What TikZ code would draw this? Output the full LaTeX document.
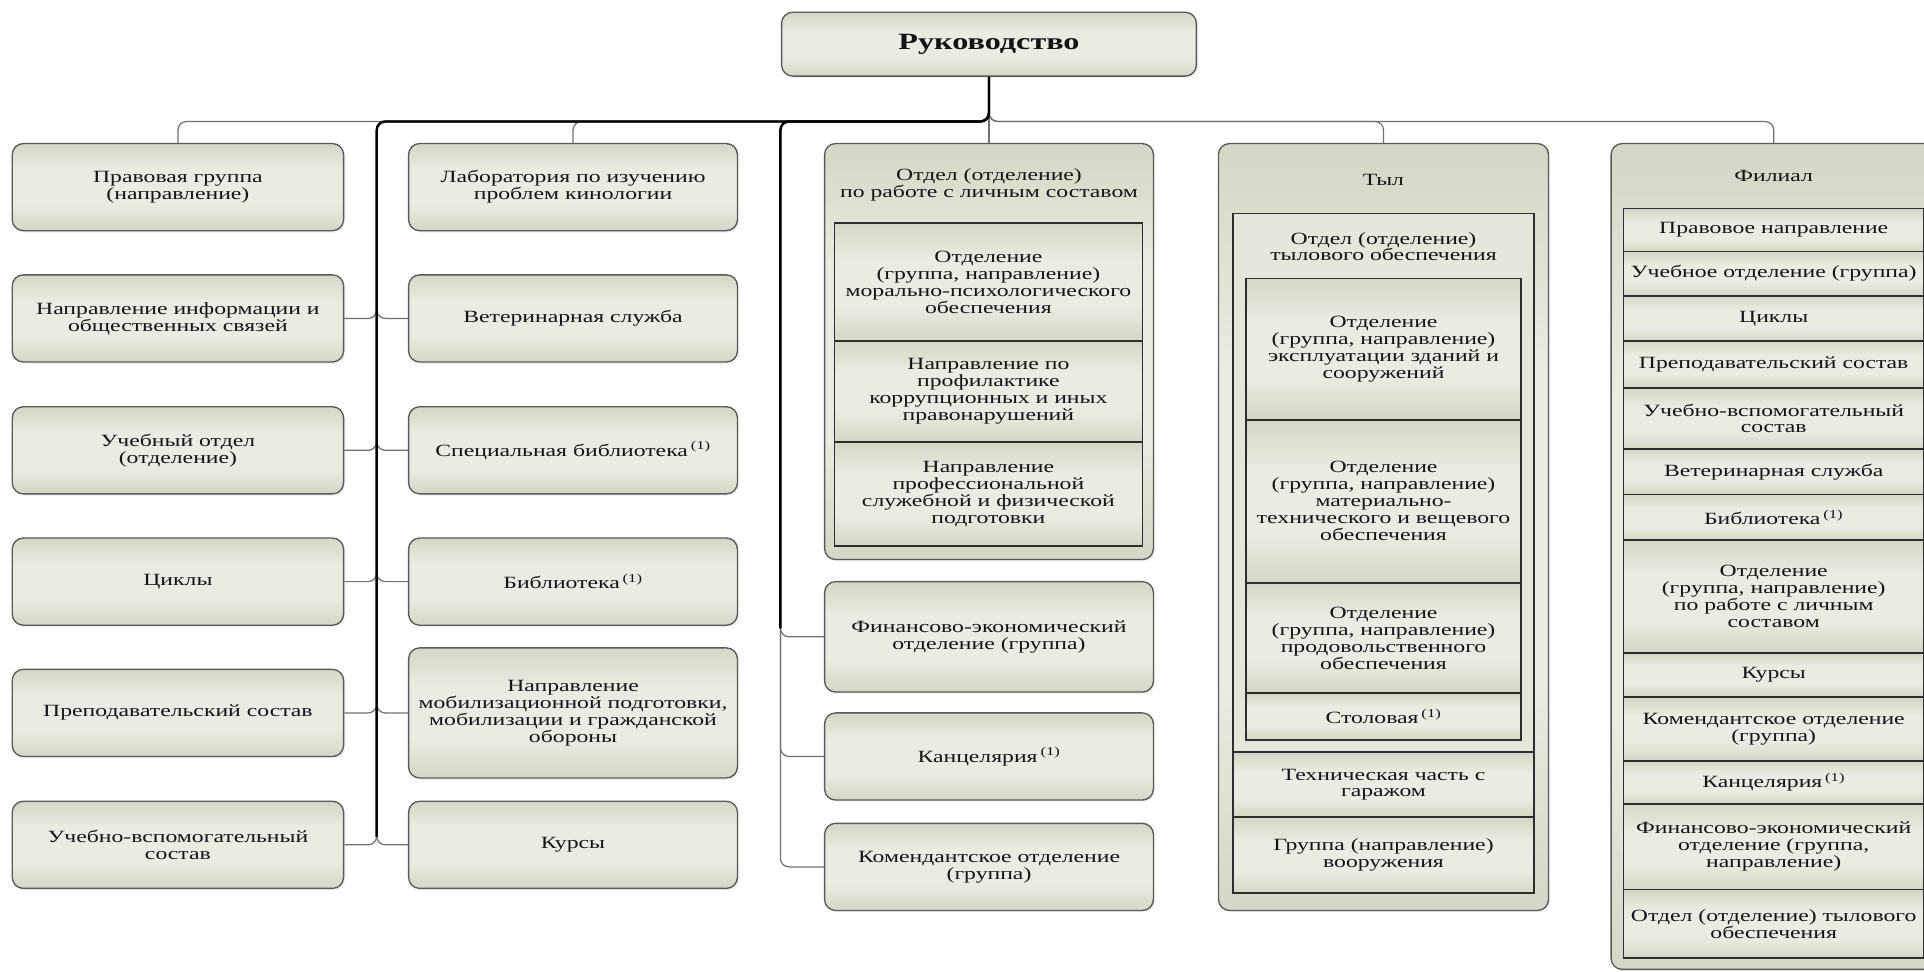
\documentclass[tikz,border=0pt]{standalone}
\usepackage{fontspec}
\setmainfont{Liberation Serif}[FakeStretch=1.38]
\usetikzlibrary{shadows}
\definecolor{boxedge}{HTML}{D5D6C6}
\definecolor{boxmid}{HTML}{EBEBE3}
\definecolor{boxline}{HTML}{5A5A5A}
\definecolor{rowline}{HTML}{2E2E2E}
\definecolor{connline}{HTML}{707070}
\definecolor{txt}{HTML}{141414}
\pgfdeclareverticalshading{boxshade}{100bp}{color(0bp)=(boxedge); color(25bp)=(boxedge); color(40bp)=(boxmid); color(60bp)=(boxmid); color(75bp)=(boxedge); color(100bp)=(boxedge)}
\tikzset{
  txtfont/.style={font=\fontsize{14}{13.8}\selectfont, text=txt},
  box/.style={draw=boxline, line width=1.1pt, rounded corners=9pt,
    shading=boxshade,
    align=center, inner sep=0pt, txtfont,
    drop shadow={opacity=0.12, shadow xshift=1.5pt, shadow yshift=-1.5pt}},
  row/.style={draw=rowline, line width=1.4pt, shading=boxshade,
    align=center, inner sep=0pt, txtfont},
  frame/.style={draw=rowline, line width=1.4pt, fill=boxmid!75!boxedge, inner sep=0pt},
  lbl/.style={align=center, inner sep=0pt, txtfont},
  conn/.style={draw=connline, line width=1pt, rounded corners=7pt},
  trunk/.style={draw=black, line width=2pt, rounded corners=7pt},
}
\newcommand{\fnone}{\,\textsuperscript{(1)}}
\begin{document}
\begin{tikzpicture}[x=1pt,y=-1pt]
\useasboundingbox (0,0) rectangle (1568,792);
\clip (0,0) rectangle (1568,792);

% top
\node[box, minimum width=338pt, minimum height=52pt, font=\fontsize{19}{21}\selectfont\bfseries] (ruk) at (806,36) {Руководство};

% column 1
\node[box, minimum width=270pt, minimum height=71pt] (c1a) at (145,152.5) {Правовая группа\\(направление)};
\node[box, minimum width=270pt, minimum height=71pt] (c1b) at (145,259.5) {Направление информации и\\общественных связей};
\node[box, minimum width=270pt, minimum height=71pt] (c1c) at (145,367) {Учебный отдел\\(отделение)};
\node[box, minimum width=270pt, minimum height=71pt] (c1d) at (145,474) {Циклы};
\node[box, minimum width=270pt, minimum height=71pt] (c1e) at (145,581) {Преподавательский состав};
\node[box, minimum width=270pt, minimum height=71pt] (c1f) at (145,688.5) {Учебно-вспомогательный\\состав};

% column 2
\node[box, minimum width=268pt, minimum height=71pt] (c2a) at (467,152.5) {Лаборатория по изучению\\проблем кинологии};
\node[box, minimum width=268pt, minimum height=71pt] (c2b) at (467,259.5) {Ветеринарная служба};
\node[box, minimum width=268pt, minimum height=71pt] (c2c) at (467,367) {Специальная библиотека\fnone};
\node[box, minimum width=268pt, minimum height=71pt] (c2d) at (467,474) {Библиотека\fnone};
\node[box, minimum width=268pt, minimum height=106pt] (c2e) at (467,581) {Направление\\мобилизационной подготовки,\\мобилизации и гражданской\\обороны};
\node[box, minimum width=268pt, minimum height=71pt] (c2f) at (467,688.5) {Курсы};

% column 3
\node[box, minimum width=268pt, minimum height=339pt] (c3a) at (806,286.5) {};
\node[lbl] (c3t) at (806,151) {Отдел (отделение)\\по работе с личным составом};
\node[row, minimum width=251pt, minimum height=96pt] (c3r1) at (805.5,230) {Отделение\\(группа, направление)\\морально-психологического\\обеспечения};
\node[row, minimum width=251pt, minimum height=82pt] (c3r2) at (805.5,319) {Направление по\\профилактике\\коррупционных и иных\\правонарушений};
\node[row, minimum width=251pt, minimum height=85pt] (c3r3) at (805.5,402.5) {Направление\\профессиональной\\служебной и физической\\подготовки};
\node[box, minimum width=268pt, minimum height=90pt] (c3b) at (806,519) {Финансово-экономический\\отделение (группа)};
\node[box, minimum width=268pt, minimum height=71pt] (c3c) at (806,616.5) {Канцелярия\fnone};
\node[box, minimum width=268pt, minimum height=71pt] (c3d) at (806,706.5) {Комендантское отделение\\(группа)};

% column 4: Тыл
\node[box, minimum width=269pt, minimum height=625pt] (tyl) at (1127.5,429.5) {};
\node[lbl] (tylt) at (1127.5,147) {Тыл};
\node[frame, minimum width=245pt, minimum height=439pt] (tw) at (1127.5,393.5) {};
\node[lbl] (twt) at (1127.5,201) {Отдел (отделение)\\тылового обеспечения};
\node[row, minimum width=224pt, minimum height=115pt] (tr1) at (1127.5,284.5) {Отделение\\(группа, направление)\\эксплуатации зданий и\\сооружений};
\node[row, minimum width=224pt, minimum height=133pt] (tr2) at (1127.5,408.5) {Отделение\\(группа, направление)\\материально-\\технического и вещевого\\обеспечения};
\node[row, minimum width=224pt, minimum height=90pt] (tr3) at (1127.5,520) {Отделение\\(группа, направление)\\продовольственного\\обеспечения};
\node[row, minimum width=224pt, minimum height=38pt] (tr4) at (1127.5,584) {Столовая\fnone};
\node[row, minimum width=245pt, minimum height=53pt] (tr5) at (1127.5,639.5) {Техническая часть с\\гаражом};
\node[row, minimum width=245pt, minimum height=62pt] (tr6) at (1127.5,697) {Группа (направление)\\вооружения};

% column 5: Филиал
\node[box, minimum width=265pt, minimum height=673pt] (fil) at (1445.5,453.5) {};
\node[lbl] (filt) at (1445.5,143) {Филиал};
\node[row, minimum width=245pt, minimum height=35pt] (f1) at (1445.5,187.5) {Правовое направление};
\node[row, minimum width=245pt, minimum height=36pt] (f2) at (1445.5,223) {Учебное отделение (группа)};
\node[row, minimum width=245pt, minimum height=37pt] (f3) at (1445.5,259.5) {Циклы};
\node[row, minimum width=245pt, minimum height=38pt] (f4) at (1445.5,297) {Преподавательский состав};
\node[row, minimum width=245pt, minimum height=50pt] (f5) at (1445.5,341) {Учебно-вспомогательный\\состав};
\node[row, minimum width=245pt, minimum height=37pt] (f6) at (1445.5,384.5) {Ветеринарная служба};
\node[row, minimum width=245pt, minimum height=37pt] (f7) at (1445.5,421.5) {Библиотека\fnone};
\node[row, minimum width=245pt, minimum height=92pt] (f8) at (1445.5,486) {Отделение\\(группа, направление)\\по работе с личным\\составом};
\node[row, minimum width=245pt, minimum height=36pt] (f9) at (1445.5,550) {Курсы};
\node[row, minimum width=245pt, minimum height=52pt] (f10) at (1445.5,594) {Комендантское отделение\\(группа)};
\node[row, minimum width=245pt, minimum height=35pt] (f11) at (1445.5,637.5) {Канцелярия\fnone};
\node[row, minimum width=245pt, minimum height=70pt] (f12) at (1445.5,690) {Финансово-экономический\\отделение (группа,\\направление)};
\node[row, minimum width=245pt, minimum height=56pt] (f13) at (1445.5,753) {Отдел (отделение) тылового\\обеспечения};

% junction coordinates
\coordinate (bus) at (806,99);
\coordinate (vL) at (307,99);
\coordinate (vM) at (636,99);
\coordinate (vLend) at (307,682);
\coordinate (vMend) at (636,512);

% thin connectors
\draw[conn] (ruk.south) -- (bus) -| (c1a.north);
\draw[conn] (ruk.south) -- (bus) -| (c2a.north);
\foreach \n in {c1b,c1c,c1d,c1e,c1f}{
  \draw[conn] (ruk.south) -- (bus) -- (vL) |- (\n.east);
}
\foreach \n in {c2b,c2c,c2d,c2e,c2f}{
  \draw[conn] (ruk.south) -- (bus) -- (vL) |- (\n.west);
}
\draw[conn] (ruk.south) -- (c3a.north);
\foreach \n in {c3b,c3c,c3d}{
  \draw[conn] (ruk.south) -- (bus) -- (vM) |- (\n.west);
}
\draw[conn] (ruk.south) -- (bus) -| (tyl.north);
\draw[conn] (ruk.south) -- (bus) -| (fil.north);

% heavy trunk (overlapping connectors)
\draw[trunk] (ruk.south) -- (bus) -- (vL) -- (vLend);
\draw[trunk] (ruk.south) -- (bus) -- (vM) -- (vMend);
\end{tikzpicture}
\end{document}
